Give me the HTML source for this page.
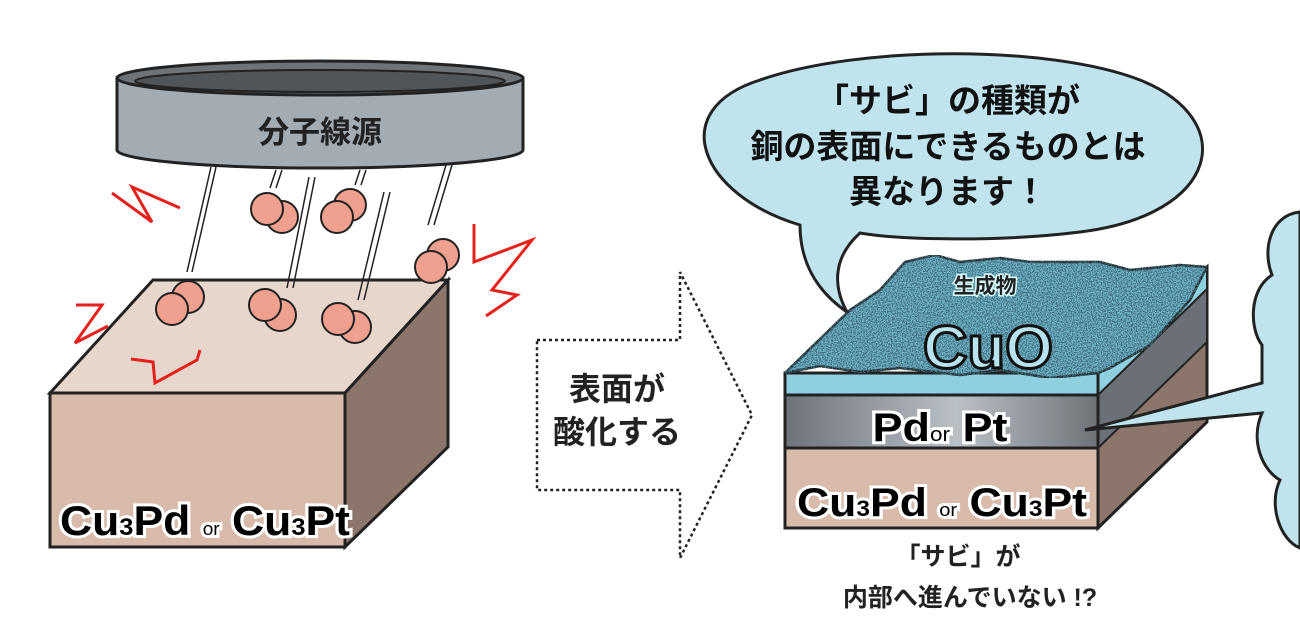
<!DOCTYPE html>
<html><head><meta charset="utf-8"><style>
html,body{margin:0;padding:0;background:#fff;}
svg{display:block;}
text{font-family:"Liberation Sans","Noto Sans CJK JP",sans-serif;}
</style></head><body>
<svg width="1300" height="628" viewBox="0 0 1300 628" xmlns="http://www.w3.org/2000/svg">
<defs>
<filter id="noise" x="0" y="0" width="100%" height="100%">
<feTurbulence type="fractalNoise" baseFrequency="0.8" numOctaves="2" seed="3" result="t"/>
<feColorMatrix in="t" type="matrix" values="0 0 0 0 0.05  0 0 0 0 0.15  0 0 0 0 0.2  0 0 0 -9 4.9" result="d"/>
<feComposite in="d" in2="SourceGraphic" operator="in" result="dd"/>
<feMerge><feMergeNode in="SourceGraphic"/><feMergeNode in="dd"/></feMerge>
</filter>
<linearGradient id="gray" x1="0" x2="1">
<stop offset="0" stop-color="#6d7378"/><stop offset="0.55" stop-color="#b9c0c6"/><stop offset="1" stop-color="#6d7378"/>
</linearGradient>
</defs>

<path d="M117 78 L117 150 A203 18 0 0 0 523 150 L523 78 Z" fill="#a3abb3" stroke="#222" stroke-width="3"/>
<ellipse cx="320" cy="78" rx="203" ry="17" fill="#6e7378" stroke="#222" stroke-width="3"/>
<ellipse cx="320" cy="81" rx="185" ry="11" fill="#50555a" stroke="#222" stroke-width="2"/>
<text x="320" y="143" font-size="31" font-weight="bold" text-anchor="middle" fill="#222">分子線源</text>

<polygon points="50,393 153,280 448,280 345,393" fill="#e6d6cc" stroke="#222" stroke-width="3"/>
<polygon points="345,393 448,280 448,447 345,547" fill="#8c766b" stroke="#222" stroke-width="3"/>
<rect x="50" y="393" width="295" height="154" fill="#d8bbab" stroke="#222" stroke-width="3"/>
<text x="60" y="535" font-size="42" font-weight="bold" fill="#000" stroke="#fff" stroke-width="6" paint-order="stroke" textLength="290" lengthAdjust="spacingAndGlyphs">Cu<tspan font-size="24">3</tspan>Pd <tspan font-size="18" font-weight="normal">or</tspan> Cu<tspan font-size="24">3</tspan>Pt</text>

<g stroke="#222" stroke-width="1.5" fill="none">
<path d="M211 167 L187 272 M216 167 L192 272"/>
<path d="M276 170 L270 188 M282 170 L276 188"/>
<path d="M309 177 L287 288 M315 177 L293 288"/>
<path d="M360 170 L355 185 M366 170 L361 185"/>
<path d="M384 192 L358 300 M390 192 L364 300"/>
<path d="M446 165 L428 225 M452 165 L434 225"/>
</g>
<g fill="#f0a08e" stroke="#222" stroke-width="2">
<circle cx="282" cy="217" r="16"/><circle cx="267" cy="209" r="16"/>
<circle cx="350" cy="205" r="16"/><circle cx="337" cy="217" r="16"/>
<circle cx="443" cy="255" r="16"/><circle cx="431" cy="267" r="16"/>
<circle cx="188" cy="297" r="16"/><circle cx="172" cy="309" r="16"/>
<circle cx="280" cy="315" r="16"/><circle cx="265" cy="305" r="16"/>
<circle cx="355" cy="327" r="16"/><circle cx="338" cy="319" r="16"/>
</g>
<g stroke="#e5211c" stroke-width="3" fill="none">
<path d="M112 193 L152 222 L132 187 L180 208"/>
<path d="M76 305 L102 305 L75 343 L108 326"/>
<path d="M131 359 L153 362 L155 383 L197 360 L200 350"/>
<path d="M474 224 L474 262 L532 240 L492 290 L517 295 L486 316"/>
</g>

<path d="M537 340 L680 340 L680 272 L752 415 L680 558 L680 490 L537 490 Z" fill="#fff" stroke="#222" stroke-width="2.5" stroke-dasharray="3,3"/>
<text x="617" y="400" font-size="32" font-weight="bold" text-anchor="middle" fill="#222">表面が</text>
<text x="617" y="443" font-size="32" font-weight="bold" text-anchor="middle" fill="#222">酸化する</text>

<polygon points="1098,373 1207,267 1207,422 1098,528" fill="#8c766b" stroke="#222" stroke-width="3"/>
<polygon points="1098,395 1207,289 1207,342 1098,448" fill="#6a7075" stroke="#222" stroke-width="2"/>
<polygon points="1098,373 1207,267 1207,289 1098,395" fill="#8fd0e0" stroke="#222" stroke-width="2"/>
<rect x="785" y="448" width="313" height="80" fill="#d8bbab" stroke="#222" stroke-width="3"/>
<rect x="785" y="395" width="313" height="53" fill="url(#gray)" stroke="#222" stroke-width="3"/>
<rect x="785" y="373" width="313" height="22" fill="#8fd0e0" stroke="#222" stroke-width="3"/>
<path d="M785 373 L850 310 L880 290 L905 262 L935 255 L960 262 L1000 258 L1030 262 L1060 262 L1100 262 L1130 270 L1180 265 L1207 267 L1190 300 L1150 345 L1110 368 L1098 373 L1050 378 L1000 370 L960 375 L900 368 L860 372 L820 366 Z" fill="#6fb5cb" stroke="#222" stroke-width="2.5" filter="url(#noise)"/>
<text x="985" y="293" font-size="21" font-weight="bold" text-anchor="middle" fill="#222" stroke="#dff" stroke-width="3" paint-order="stroke">生成物</text>
<text x="988" y="368" font-size="60" font-weight="bold" text-anchor="middle" fill="#b7e3ef" stroke="#111" stroke-width="3" textLength="130" lengthAdjust="spacingAndGlyphs">CuO</text>
<text x="940" y="441" font-size="40" font-weight="bold" text-anchor="middle" fill="#000" stroke="#fff" stroke-width="6" paint-order="stroke" textLength="135" lengthAdjust="spacingAndGlyphs">Pd<tspan font-size="20" font-weight="normal">or</tspan> Pt</text>
<text x="942" y="516" font-size="40" font-weight="bold" text-anchor="middle" fill="#000" stroke="#fff" stroke-width="6" paint-order="stroke" textLength="290" lengthAdjust="spacingAndGlyphs">Cu<tspan font-size="22">3</tspan>Pd <tspan font-size="18" font-weight="normal">or</tspan> Cu<tspan font-size="22">3</tspan>Pt</text>

<path d="M800 225 C 700 195 665 110 760 80 C 860 45 1050 45 1140 80 C 1240 120 1220 215 1080 232 C 1000 242 900 240 860 233 C 830 260 835 290 847 312 C 815 290 800 260 800 225 Z" fill="#bfe4ee" stroke="#222" stroke-width="3"/>
<text x="948" y="112" font-size="33" font-weight="bold" text-anchor="middle" fill="#111">「サビ」の種類が</text>
<text x="948" y="158" font-size="33" font-weight="bold" text-anchor="middle" fill="#111">銅の表面にできるものとは</text>
<text x="948" y="203" font-size="33" font-weight="bold" text-anchor="middle" fill="#111">異なります！</text>

<path d="M1300 212 C1270 215 1262 250 1272 275 C1248 290 1250 330 1262 345 L1262 383 L1085 430 L1262 413 C1250 440 1262 470 1280 480 C1268 505 1280 540 1300 548 Z" fill="#bfe4ee" stroke="#222" stroke-width="3"/>

<text x="958" y="565" font-size="25" font-weight="bold" text-anchor="middle" fill="#222">「サビ」が</text>
<text x="970" y="606" font-size="25" font-weight="bold" text-anchor="middle" fill="#222">内部へ進んでいない !?</text>
</svg>
</body></html>
